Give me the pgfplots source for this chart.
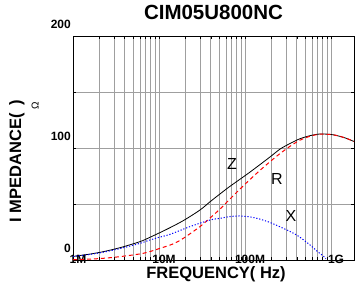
\documentclass[border=0pt]{standalone}
\usepackage{pgfplots}
\pgfplotsset{compat=1.18}
\usepackage{fontspec}
\setmainfont{Liberation Sans}
\begin{document}
\begin{tikzpicture}[x=1pt,y=1pt]
\begin{axis}[
  at={(0,0)}, anchor=south west,
  scale only axis, width=281pt, height=224pt,
  xmode=log, log basis x=10,
  xmin=1e6, xmax=1.85e9, ymin=0, ymax=200,
  xtick={1e6,1e7,1e8,1e9}, xticklabels={1M,10M,100M,1G},
  minor xtick={2e6,3e6,4e6,5e6,6e6,7e6,8e6,9e6,2e7,3e7,4e7,5e7,6e7,7e7,8e7,9e7,2e8,3e8,4e8,5e8,6e8,7e8,8e8,9e8},
  ytick={0,100,200}, minor ytick={50,150},
  grid=both,
  major grid style={draw=gray!75, line width=0.7pt},
  minor grid style={draw=gray!75, line width=0.7pt},
  axis line style={black, line width=1pt},
  tick align=inside,
  tick style={black, line width=0.6pt},
  major tick length=3pt, minor tick length=3pt,
  /pgf/number format/assume math mode=true,
  ticklabel style={font=\fontsize{12}{14}\selectfont\bfseries},
  xticklabel style={anchor=base, inner sep=0pt, yshift=-3.3pt, xshift=5pt},
  yticklabel style={anchor=base east, inner sep=0pt, xshift=-2pt, yshift=8pt},
  title={CIM05U800NC},
  title style={font=\fontsize{20.5}{24}\selectfont\bfseries, at={(axis description cs:0.5,1)}, anchor=base, yshift=11pt},
  xlabel={FREQUENCY( Hz)},
  xlabel style={font=\fontsize{16.5}{19}\selectfont\bfseries, at={(axis description cs:0.509,0)}, anchor=base, yshift=-18.3pt},
  ylabel={I MPEDANCE(\,\,\,)},
  ylabel style={font=\fontsize{16.5}{19}\selectfont\bfseries, at={(axis description cs:-0.185,0.442)}, anchor=base, rotate=0},
  clip mode=individual,
]
% Z
\addplot[black, line width=0.8pt, smooth] coordinates {
 (1e6,3.2) (1.577e6,5.3) (2.23e6,7.4) (3.52e6,11) (6.01e6,16.4) (7.86e6,20.3)
 (12.3e6,27.4) (19.2e6,35.2) (29.9e6,44.6) (39.2e6,52) (51.2e6,59) (66.9e6,65.8)
 (114.3e6,78.5) (195.2e6,92) (255e6,99) (333e6,104) (436e6,108.3) (570e6,111)
 (745e6,112.5) (1.06e9,111.8) (1.46e9,109) (1.85e9,105.8)
};
% R
\addplot[red, line width=1pt, dash pattern=on 4pt off 3pt, smooth] coordinates {
 (1e6,0.3) (1.577e6,0.8) (2.23e6,1.5) (3.52e6,3) (6.57e6,6) (10.27e6,10.4)
 (14.7e6,14.5) (19.2e6,19.4) (29.9e6,29.8) (39.2e6,37.5) (51.2e6,45.5)
 (66.9e6,54.5) (94.8e6,66) (149e6,80) (236e6,93) (333e6,101.5) (436e6,107)
 (570e6,110.5) (745e6,112.3) (1.06e9,111.8) (1.46e9,109) (1.85e9,105.8)
};
% X
\addplot[blue, line width=1pt, dash pattern=on 1.2pt off 1.8pt, smooth] coordinates {
 (1e6,3.2) (1.577e6,5) (2.23e6,6.9) (3.52e6,10.2) (6.01e6,14.9) (7.86e6,17.9)
 (10.27e6,20.5) (13.4e6,22.9) (22.9e6,29.8) (39.2e6,35.7) (51.2e6,37.2)
 (66.9e6,38.8) (87.1e6,39.3) (114.3e6,38.5) (149e6,36.5) (195.2e6,33.5)
 (275e6,28.5) (404e6,22) (570e6,13.4) (710e6,7) (813e6,3.6) (870e6,1)
};
\node[font=\fontsize{16}{19}\selectfont] at (rel axis cs:0.566,0.429) {Z};
\node[font=\fontsize{16}{19}\selectfont] at (rel axis cs:0.726,0.362) {R};
\node[font=\fontsize{16}{19}\selectfont] at (rel axis cs:0.776,0.196) {X};
\node[font=\fontsize{10}{12}\selectfont, rotate=90] at (rel axis cs:-0.135,0.6875) {Ω};
\end{axis}
\pgfresetboundingbox
\path[use as bounding box] (-73,-33) rectangle (283,260);
\end{tikzpicture}
\end{document}
